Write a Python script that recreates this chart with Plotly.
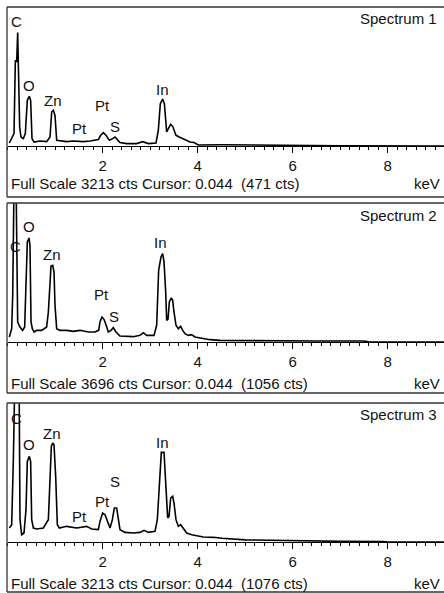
import plotly.graph_objects as go

# ---------------- data (keV, counts) ----------------
energy_1 = [0.034, 0.084, 0.133, 0.161, 0.189, 0.210, 0.231, 0.252, 0.280, 0.329, 0.371, 0.413, 0.455, 0.483,
            0.512, 0.554, 0.680, 0.820, 0.891, 0.926, 0.961, 0.996, 1.031, 1.136, 1.241, 1.382, 1.592, 1.733,
            1.908, 1.957, 2.013, 2.069, 2.140, 2.210, 2.259, 2.308, 2.364, 2.505, 2.716, 2.841, 2.961, 3.122,
            3.171, 3.213, 3.262, 3.298, 3.347, 3.382, 3.431, 3.473, 3.543, 3.613, 3.684, 3.754, 3.838, 3.922,
            4.013, 4.5, 5.0, 5.5, 6.0, 7.0, 9.2]
counts_1 = [69, 171, 286, 1981, 1942, 2621, 1826, 439, 208, 171, 286, 1056, 1149, 1056,
            171, 92, 116, 101, 208, 786, 825, 709, 131, 116, 101, 116, 101, 116,
            148, 247, 310, 247, 131, 171, 208, 148, 79, 55, 55, 101, 55, 69,
            363, 980, 1086, 980, 324, 402, 502, 455, 247, 208, 171, 131, 92, 79,
            23, 30, 25, 20, 10, 5, 0]

energy_2 = [0.034, 0.084, 0.105, 0.119, 0.135, 0.175, 0.195, 0.210, 0.259, 0.315, 0.357, 0.385, 0.413, 0.448,
            0.469, 0.491, 0.519, 0.554, 0.610, 0.715, 0.820, 0.856, 0.884, 0.912, 0.947, 0.975, 0.996, 1.031,
            1.101, 1.241, 1.382, 1.522, 1.698, 1.838, 1.915, 1.943, 1.985, 2.027, 2.069, 2.119, 2.175, 2.224,
            2.280, 2.364, 2.645, 2.785, 2.856, 2.926, 3.080, 3.136, 3.178, 3.227, 3.262, 3.291, 3.326, 3.347,
            3.375, 3.403, 3.445, 3.473, 3.501, 3.543, 3.592, 3.641, 3.684, 3.733, 3.803, 3.873, 3.943, 4.048,
            4.259, 4.469, 5.0, 5.5, 6.5, 7.5, 7.6, 9.2]
counts_2 = [133, 355, 1242, 2572, 4400, 4400, 1500, 532, 399, 310, 399, 1597, 2661, 2767,
            2572, 532, 355, 266, 310, 310, 399, 798, 1597, 2022, 2040, 1863, 976, 355,
            310, 310, 284, 310, 266, 266, 310, 532, 665, 603, 461, 266, 310, 381,
            266, 160, 142, 177, 248, 177, 177, 444, 1907, 2262, 2351, 2129, 1331, 577,
            603, 1064, 1171, 1109, 798, 444, 355, 417, 310, 222, 177, 195, 133, 106,
            62, 44, 35, 30, 25, 25, 5, 0]

energy_3 = [0.034, 0.084, 0.119, 0.154, 0.238, 0.259, 0.294, 0.343, 0.385, 0.413, 0.455, 0.483, 0.505, 0.540,
            0.610, 0.750, 0.856, 0.891, 0.919, 0.947, 0.975, 1.010, 1.045, 1.087, 1.241, 1.452, 1.662, 1.768,
            1.908, 1.943, 1.999, 2.048, 2.097, 2.154, 2.203, 2.245, 2.294, 2.329, 2.364, 2.470, 2.645, 2.785,
            2.870, 2.961, 3.101, 3.150, 3.192, 3.234, 3.291, 3.319, 3.347, 3.368, 3.396, 3.431, 3.473, 3.501,
            3.543, 3.592, 3.641, 3.698, 3.768, 3.873, 3.978, 4.118, 4.329, 4.511, 5.0, 5.5, 6.0, 7.0, 7.9,
            8.0, 9.2]
counts_3 = [323, 400, 1902, 4000, 4000, 516, 169, 208, 747, 1863, 1979, 1863, 516, 323,
            300, 323, 516, 1517, 2210, 2287, 2248, 1517, 400, 323, 362, 323, 362, 300,
            285, 477, 670, 631, 477, 323, 516, 785, 785, 516, 285, 223, 208, 223,
            270, 223, 246, 516, 1363, 2071, 2071, 1517, 901, 554, 593, 1016, 1055, 901,
            516, 362, 400, 323, 208, 169, 146, 116, 108, 85, 50, 40, 20, 15, 10,
            0, 0]

spectra_names = ["Spectrum 1", "Spectrum 2", "Spectrum 3"]
full_scale = [3213, 3696, 3213]
cursor_keV = 0.044
cursor_counts = [471, 1056, 1076]

tick_values = [2, 4, 6, 8]
tick_labels = ["2", "4", "6", "8"]

# element labels: (text, keV, counts at label centre)
labels_1 = [("C", 0.19, 2872), ("O", 0.455, 1409), ("Zn", 0.96, 1063), ("Pt", 1.52, 416),
            ("Pt", 1.99, 947), ("S", 2.26, 462), ("In", 3.255, 1310)]
labels_2 = [("C", 0.154, 2535), ("O", 0.455, 3067), ("Zn", 0.926, 2314), ("Pt", 1.97, 1250),
            ("S", 2.24, 673), ("In", 3.22, 2652)]
labels_3 = [("C", 0.19, 2864), ("O", 0.455, 2248), ("Zn", 0.94, 2518), ("Pt", 1.52, 594),
            ("Pt", 2.0, 940), ("S", 2.26, 1402), ("In", 3.25, 2303)]

energies = [energy_1, energy_2, energy_3]
counts = [counts_1, counts_2, counts_3]
labels = [labels_1, labels_2, labels_3]

# ---------------- layout geometry (pixels of a 444x593 page) ----------------
W, H = 444, 593
FONT = "Liberation Sans, Arial, sans-serif"
TXT = "#111111"
x0_px = 7.7
px_per_keV = 47.5
x_max = (W - x0_px) / px_per_keV

panels = [  # plot top, baseline, frame top, frame bottom, footer y, spectrum-title y
    dict(top=7, base=146, ftop=7, fbot=197, foot=183, title=19),
    dict(top=203, base=342, ftop=203, fbot=393, foot=383, title=215),
    dict(top=403, base=542, ftop=403, fbot=592, foot=583, title=414),
]

def py(v):
    return 1 - v / H

fig = go.Figure()
annotations = []
shapes = []

for i in range(3):
    p = panels[i]
    sx = "" if i == 0 else str(i + 1)
    xa, ya = "x" + sx, "y" + sx
    fig.add_trace(go.Scatter(x=energies[i], y=counts[i], mode="lines",
                             line=dict(color="black", width=1.6), xaxis=xa, yaxis=ya,
                             showlegend=False, hoverinfo="skip"))
    fig.layout["xaxis" + sx] = dict(
        domain=[x0_px / W, 1], range=[0, x_max], anchor=ya,
        showline=True, linecolor="black", linewidth=1, showgrid=False, zeroline=False,
        tickmode="array", tickvals=tick_values, ticktext=tick_labels,
        ticks="outside", ticklen=6, tickcolor="black", tickwidth=1,
        tickfont=dict(family=FONT, size=15, color=TXT),
        minor=dict(tick0=0, dtick=0.2, ticks="outside", ticklen=3, tickcolor="black", tickwidth=1),
        fixedrange=True,
    )
    fig.layout["yaxis" + sx] = dict(
        domain=[py(p["base"]), py(p["top"])], range=[0, full_scale[i]], anchor=xa,
        visible=False, fixedrange=True,
    )
    for (t, ex, ey) in labels[i]:
        annotations.append(dict(text=t, x=ex, y=ey, xref=xa, yref=ya, showarrow=False,
                                xanchor="center", yanchor="middle",
                                font=dict(family=FONT, size=15, color=TXT)))
    annotations.append(dict(text=spectra_names[i], x=439 / W, y=py(p["title"]), xref="paper", yref="paper",
                            showarrow=False, xanchor="right", yanchor="middle",
                            font=dict(family=FONT, size=15, color=TXT)))
    footer = f"Full Scale {full_scale[i]} cts Cursor: {cursor_keV:.3f}&nbsp;&nbsp;({cursor_counts[i]} cts)"
    annotations.append(dict(text=footer, x=8.5 / W, y=py(p["foot"]), xref="paper", yref="paper",
                            showarrow=False, xanchor="left", yanchor="middle",
                            font=dict(family=FONT, size=15, color=TXT)))
    annotations.append(dict(text="keV", x=442 / W, y=py(p["foot"]), xref="paper", yref="paper",
                            showarrow=False, xanchor="right", yanchor="middle",
                            font=dict(family=FONT, size=15, color=TXT)))
    # panel frame (left, top, bottom)
    for (ax0, ay0, ax1, ay1) in [(7, p["ftop"], 7, p["fbot"]), (7, p["ftop"], W + 2, p["ftop"]),
                                 (7, p["fbot"], W + 2, p["fbot"])]:
        shapes.append(dict(type="line", xref="paper", yref="paper",
                           x0=ax0 / W, y0=py(ay0), x1=ax1 / W, y1=py(ay1),
                           line=dict(color="#333333", width=1.3)))

fig.update_layout(width=W, height=H, margin=dict(l=0, r=0, t=0, b=0),
                  paper_bgcolor="white", plot_bgcolor="white",
                  annotations=annotations, shapes=shapes, showlegend=False)

fig.write_html("out.html", config={"displayModeBar": False},
               post_script="document.body.style.margin='0';document.body.style.overflow='hidden';")
